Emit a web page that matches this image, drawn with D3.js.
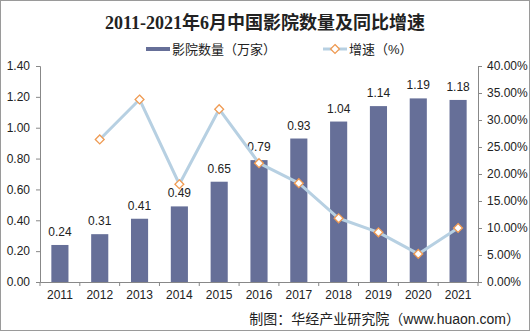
<!DOCTYPE html>
<html>
<head>
<meta charset="utf-8">
<script src="https://cdn.jsdelivr.net/npm/d3@7"></script>
<style>
  body { margin: 0; background: #fff; }
  svg text { font-family: "Liberation Sans", Arial, "Noto Sans CJK SC", sans-serif; fill: #222; }
</style>
</head>
<body>
<div id="chart"></div>
<script>
// cinema count (10k) and year-on-year growth (%)
var years = ["2011", "2012", "2013", "2014", "2015", "2016", "2017", "2018", "2019", "2020", "2021"];
var cinemas = [0.24, 0.31, 0.41, 0.49, 0.65, 0.79, 0.93, 1.04, 1.14, 1.19, 1.18];
var growth = [null, 26.4, 33.8, 18.1, 32.0, 22.0, 18.3, 11.8, 9.2, 5.2, 10.0];
var leftTicks = [0, 0.2, 0.4, 0.6, 0.8, 1.0, 1.2, 1.4];
var rightTicks = [0, 5, 10, 15, 20, 25, 30, 35, 40];

var svg = d3.select("#chart").append("svg").attr("width", 530).attr("height", 331),
    margin = {top: 66, right: 52, bottom: 49, left: 40},
    width = 530 - margin.left - margin.right,
    height = 331 - margin.top - margin.bottom,
    g = svg.append("g").attr("transform", "translate(" + margin.left + "," + margin.top + ")");

// outer frame
svg.append("rect")
    .attr("x", 0.5).attr("y", 0.5)
    .attr("width", 529).attr("height", 330)
    .attr("fill", "none").attr("stroke", "#9a9a9a");

var x = d3.scaleBand().domain(years).range([0, width]).paddingInner(0.57).paddingOuter(0.285);
var y = d3.scaleLinear().domain([0, 1.4]).range([height, 0]);
var y2 = d3.scaleLinear().domain([0, 40]).range([height, 0]);

// left axis
var axL = g.append("g")
    .call(d3.axisLeft(y).tickValues(leftTicks).tickFormat(d3.format(".2f")).tickSize(4).tickPadding(6));
// right axis
var axR = g.append("g")
    .attr("transform", "translate(" + width + ",0)")
    .call(d3.axisRight(y2).tickValues(rightTicks).tickFormat(function (d) { return d.toFixed(2) + "%"; }).tickSize(4).tickPadding(5));
// bottom axis, ticks on category boundaries
var step = x.step();
var axB = g.append("g")
    .attr("transform", "translate(0," + height + ")")
    .call(d3.axisBottom(x).tickSize(0).tickPadding(8));
axB.selectAll(".bnd")
    .data(d3.range(years.length + 1))
    .enter().append("line")
    .attr("class", "bnd")
    .attr("x1", function (i) { return i * step; })
    .attr("x2", function (i) { return i * step; })
    .attr("y1", 0).attr("y2", 4)
    .attr("stroke", "#888");

[axL, axR, axB].forEach(function (a) {
    a.select(".domain").attr("stroke", "#888");
    a.selectAll(".tick line").attr("stroke", "#888");
    a.selectAll("text").style("font-size", "12px").attr("fill", "#222");
});

// bars
g.selectAll(".bar")
    .data(cinemas)
    .enter().append("rect")
    .attr("class", "bar")
    .attr("x", function (d, i) { return x(years[i]); })
    .attr("y", function (d) { return y(d); })
    .attr("width", x.bandwidth())
    .attr("height", function (d) { return height - y(d); })
    .attr("fill", "#666f98");

// value labels
g.selectAll(".val")
    .data(cinemas)
    .enter().append("text")
    .attr("class", "val")
    .attr("x", function (d, i) { return x(years[i]) + x.bandwidth() / 2; })
    .attr("y", function (d) { return y(d) - 9; })
    .attr("text-anchor", "middle")
    .style("font-size", "12px")
    .text(function (d) { return d.toFixed(2); });

// growth line
var pts = growth.map(function (d, i) { return {year: years[i], v: d}; }).filter(function (d) { return d.v !== null; });
var line = d3.line()
    .x(function (d) { return x(d.year) + x.bandwidth() / 2; })
    .y(function (d) { return y2(d.v); });

g.append("path")
    .datum(pts)
    .attr("d", line)
    .attr("fill", "none")
    .attr("stroke", "#b7d0e2")
    .attr("stroke-width", 3)
    .attr("stroke-linejoin", "round");

var diamond = d3.symbol().type(d3.symbolDiamond2).size(50);
g.selectAll(".mk")
    .data(pts)
    .enter().append("path")
    .attr("class", "mk")
    .attr("transform", function (d) { return "translate(" + (x(d.year) + x.bandwidth() / 2) + "," + y2(d.v) + ")"; })
    .attr("d", diamond)
    .attr("fill", "#fff")
    .attr("stroke", "#ef9a52")
    .attr("stroke-width", 1.3);

// title
svg.append("text")
    .attr("x", 265).attr("y", 29)
    .attr("text-anchor", "middle")
    .style("font-family", "'Liberation Serif', 'Noto Sans CJK SC', serif")
    .style("font-weight", "bold")
    .style("font-size", "18px")
    .attr("fill", "#222")
    .text("2011-2021年6月中国影院数量及同比增速");

// legend
var lg = svg.append("g").attr("transform", "translate(0,49)");
lg.append("rect").attr("x", 146).attr("y", -2).attr("width", 24).attr("height", 4).attr("fill", "#666f98");
lg.append("text").attr("x", 172).attr("y", 5).style("font-size", "13px").text("影院数量（万家）");
lg.append("line").attr("x1", 323).attr("x2", 347).attr("y1", 0).attr("y2", 0)
    .attr("stroke", "#b7d0e2").attr("stroke-width", 3);
lg.append("path").attr("transform", "translate(335,0)").attr("d", diamond)
    .attr("fill", "#fff").attr("stroke", "#ef9a52").attr("stroke-width", 1.3);
lg.append("text").attr("x", 349).attr("y", 5).style("font-size", "13px").text("增速（%）");

// source note
svg.append("text")
    .attr("x", 520).attr("y", 324)
    .attr("text-anchor", "end")
    .style("font-size", "14px")
    .text("制图：华经产业研究院（www.huaon.com）");
</script>
</body>
</html>
